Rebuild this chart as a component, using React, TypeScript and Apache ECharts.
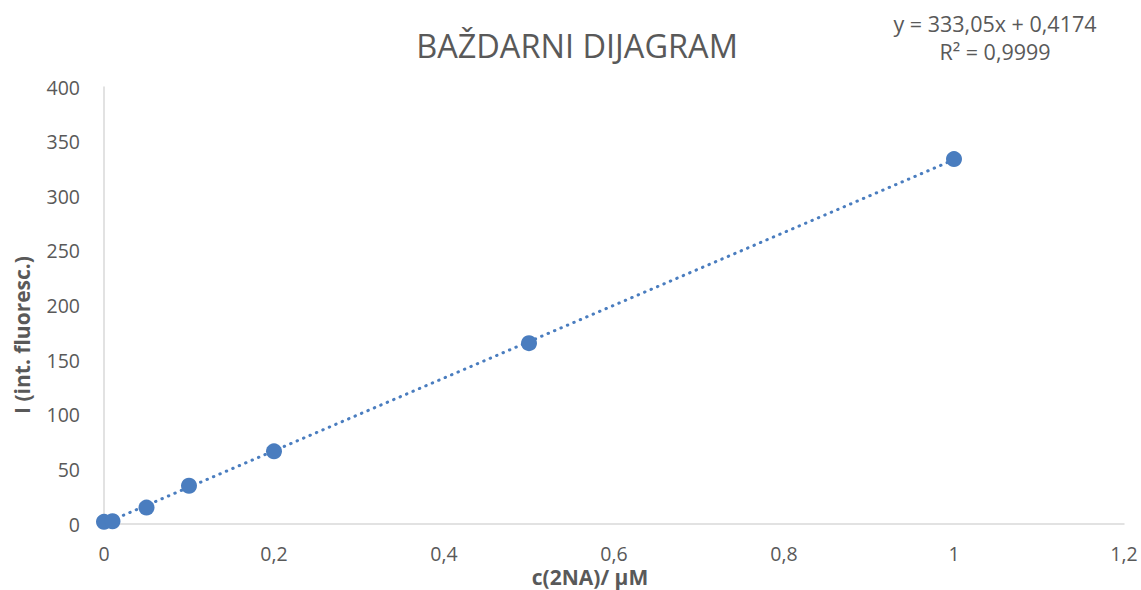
import React, { useEffect, useRef } from "react";
import * as echarts from "echarts";

const concentrations = [0, 0.01, 0.05, 0.1, 0.2, 0.5, 1];
const intensities = [2, 2.5, 15, 35, 66.5, 165.5, 334];
const slope = 333.05;
const intercept = 0.4174;
const trendX = [0, 1];
const titleText = "BAŽDARNI DIJAGRAM";
const equationLines = ["y = 333,05x + 0,4174", "R² = 0,9999"];
const xAxisTitle = "c(2NA)/ µM";
const yAxisTitle = "I (int. fluoresc.)";

const FONT = "'Open Sans', 'Liberation Sans', sans-serif";
const TEXT_COLOR = "#595959";
const BLUE = "#4A7DBF";

export default function App() {
  const ref = useRef<HTMLDivElement>(null);
  useEffect(() => {
    document.body.style.margin = "0";
    const chart = echarts.init(ref.current!, null, { renderer: "svg" });
    chart.setOption({
      animation: false,
      backgroundColor: "#ffffff",
      grid: { left: 104, right: 17, top: 87, bottom: 66 },
      xAxis: {
        type: "value",
        min: 0,
        max: 1.2,
        interval: 0.2,
        splitLine: { show: false },
        axisTick: { show: false },
        axisLine: { show: true, lineStyle: { color: "#d9d9d9", width: 1.5 } },
        axisLabel: {
          fontFamily: FONT,
          fontSize: 19.5,
          color: TEXT_COLOR,
          margin: 19,
          formatter: (v: number) => String(Math.round(v * 10) / 10).replace(".", ","),
        },
      },
      yAxis: {
        type: "value",
        min: 0,
        max: 400,
        interval: 50,
        splitLine: { show: false },
        axisTick: { show: false },
        axisLine: { show: true, lineStyle: { color: "#d9d9d9", width: 1.5 } },
        axisLabel: { fontFamily: FONT, fontSize: 19.5, color: TEXT_COLOR, margin: 24 },
      },
      graphic: [
        {
          type: "text",
          x: 577,
          y: 45,
          style: {
            text: titleText,
            align: "center",
            verticalAlign: "middle",
            fontFamily: FONT,
            fontSize: 32.5,
            fill: TEXT_COLOR,
          },
        },
        {
          type: "text",
          x: 995,
          y: 23,
          style: {
            text: equationLines[0],
            align: "center",
            verticalAlign: "middle",
            fontFamily: FONT,
            fontSize: 21.5,
            fill: TEXT_COLOR,
          },
        },
        {
          type: "text",
          x: 995,
          y: 51,
          style: {
            text: equationLines[1],
            align: "center",
            verticalAlign: "middle",
            fontFamily: FONT,
            fontSize: 21.5,
            fill: TEXT_COLOR,
          },
        },
        {
          type: "text",
          x: 590,
          y: 577,
          style: {
            text: xAxisTitle,
            align: "center",
            verticalAlign: "middle",
            fontFamily: FONT,
            fontSize: 21,
            fontWeight: "bold",
            fill: TEXT_COLOR,
          },
        },
        {
          type: "text",
          x: 22,
          y: 335,
          rotation: Math.PI / 2,
          style: {
            text: yAxisTitle,
            align: "center",
            verticalAlign: "middle",
            fontFamily: FONT,
            fontSize: 21,
            fontWeight: "bold",
            fill: TEXT_COLOR,
          },
        },
      ],
      series: [
        {
          type: "line",
          data: trendX.map((x) => [x, slope * x + intercept]),
          showSymbol: false,
          symbol: "none",
          silent: true,
          lineStyle: { color: BLUE, width: 3, type: [0.5, 6.5], cap: "round" },
          z: 1,
        },
        {
          type: "scatter",
          data: concentrations.map((c, i) => [c, intensities[i]]),
          symbol: "circle",
          symbolSize: 16,
          itemStyle: { color: BLUE, opacity: 1 },
          z: 2,
        },
      ],
    });
    return () => chart.dispose();
  }, []);
  return <div ref={ref} style={{ width: 1141, height: 590 }} />;
}
